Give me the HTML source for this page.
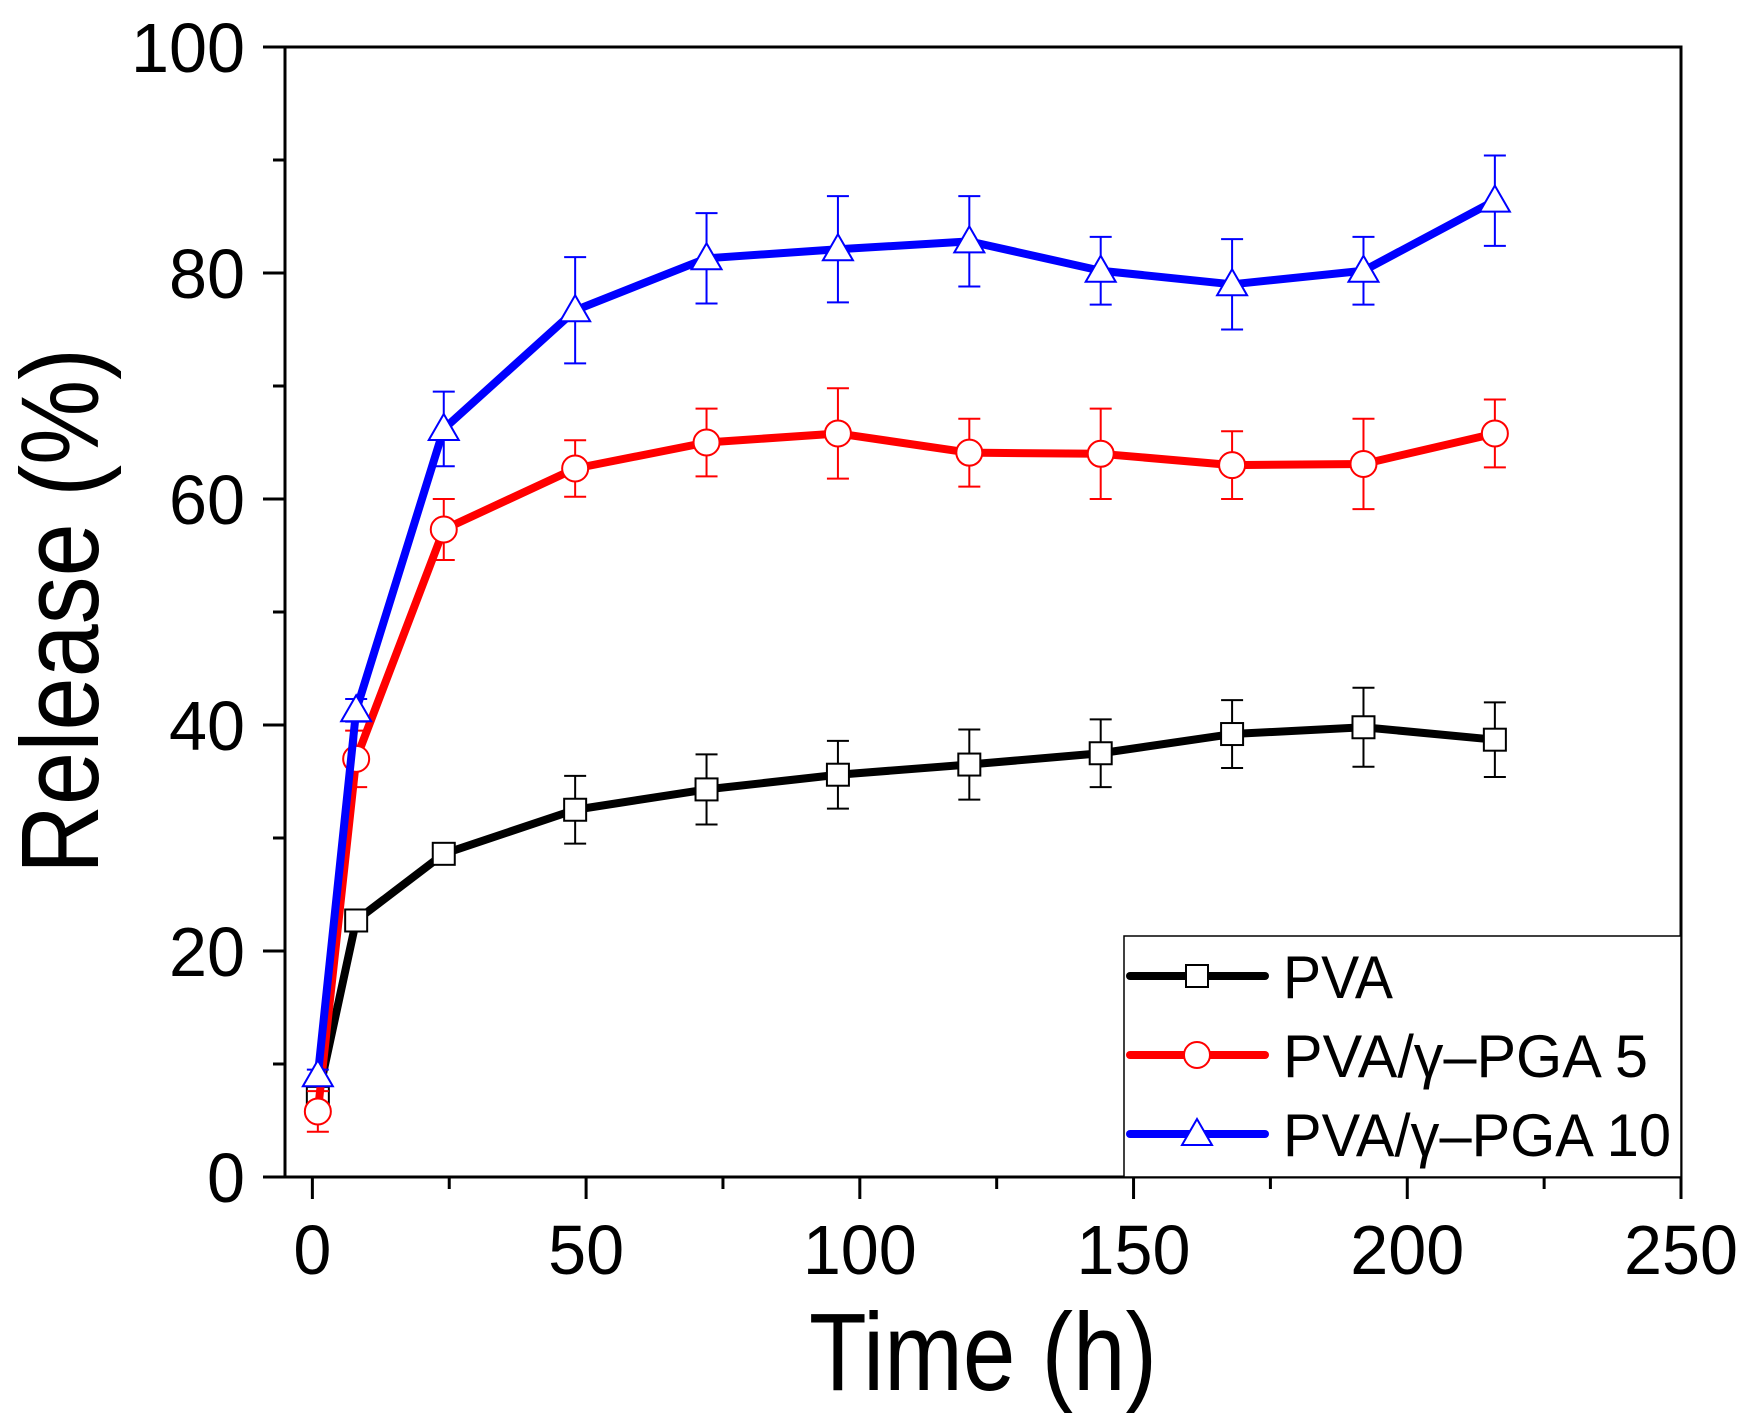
<!DOCTYPE html>
<html><head><meta charset="utf-8"><style>html,body{margin:0;padding:0;background:#fff}svg{display:block}</style></head>
<body>
<svg id="chart" width="1758" height="1425" viewBox="0 0 1758 1425" xmlns="http://www.w3.org/2000/svg" font-family="'Liberation Sans', sans-serif">
<g id="plot"></g>
</svg>
<script>
const times = [1, 8, 24, 48, 72, 96, 120, 144, 168, 192, 216];
const pvaValues = [7, 22.7, 28.6, 32.5, 34.3, 35.6, 36.5, 37.5, 39.2, 39.8, 38.7];
const pvaErrors = [0.6, 0.6, 0.5, 3, 3.1, 3, 3.1, 3, 3, 3.5, 3.3];
const pga5Values = [5.8, 37, 57.3, 62.7, 65, 65.8, 64.1, 64, 63, 63.1, 65.8];
const pga5Errors = [1.8, 2.5, 2.7, 2.5, 3, 4, 3, 4, 3, 4, 3];
const pga10Values = [9, 41.3, 66.2, 76.7, 81.3, 82.1, 82.8, 80.2, 79, 80.2, 86.4];
const pga10Errors = [0.5, 1, 3.3, 4.7, 4, 4.7, 4, 3, 4, 3, 4];
const xTickLabels = ["0", "50", "100", "150", "200", "250"];
const yTickLabels = ["0", "20", "40", "60", "80", "100"];
const seriesNames = ["PVA", "PVA/γ–PGA 5", "PVA/γ–PGA 10"];

const L = 285, R = 1681, T = 47, B = 1177;
const xMin = -5, xMax = 250, yMin = 0, yMax = 100;
const xs = v => L + (v - xMin) / (xMax - xMin) * (R - L);
const ys = v => B - (v - yMin) / (yMax - yMin) * (B - T);
const NS = "http://www.w3.org/2000/svg";
const plot = document.getElementById('plot');
function mk(tag, attrs, parent) {
  const e = document.createElementNS(NS, tag);
  for (const k in attrs) e.setAttribute(k, attrs[k]);
  (parent || plot).appendChild(e);
  return e;
}

const frame = mk('rect', {x: L, y: T, width: R - L, height: B - T, fill: 'none', stroke: '#000', 'stroke-width': 3});



for (let v = 0; v <= 250; v += 25) {
  const major = v % 50 === 0;
  const t = mk('line', {x1: xs(v), x2: xs(v), y1: B, y2: B + (major ? 22 : 12), stroke: '#000', 'stroke-width': 3});
  
  
}
xTickLabels.forEach(s => {
  const v = parseFloat(s);
  const w = s.length * 38;
  const t = mk('text', {x: xs(v), y: 1274, 'text-anchor': 'middle', 'font-size': 70, textLength: w, lengthAdjust: 'spacingAndGlyphs'});
  t.textContent = s;
  
  
});
for (let v = 0; v <= 100; v += 10) {
  const major = v % 20 === 0;
  const t = mk('line', {x1: L, x2: L - (major ? 22 : 12), y1: ys(v), y2: ys(v), stroke: '#000', 'stroke-width': 3});
  
  
}
yTickLabels.forEach(s => {
  const v = parseFloat(s);
  const w = s.length * 38;
  const t = mk('text', {x: 245, y: ys(v) + 25, 'text-anchor': 'end', 'font-size': 70, textLength: w, lengthAdjust: 'spacingAndGlyphs'});
  t.textContent = s;
  
  
});
const xt = mk('text', {x: 983, y: 1390, 'text-anchor': 'middle', 'font-size': 110, textLength: 348, lengthAdjust: 'spacingAndGlyphs'});
xt.textContent = 'Time (h)';


const yt = mk('text', {x: 0, y: 0, 'text-anchor': 'middle', 'font-size': 110, textLength: 526, lengthAdjust: 'spacingAndGlyphs', transform: 'translate(98,611) rotate(-90)'});
yt.textContent = 'Release (%)';



function marker(kind, cx, cy, color, parent) {
  if (kind === 'square') return mk('rect', {x: cx - 11, y: cy - 11, width: 22, height: 22, fill: '#fff', stroke: color, 'stroke-width': 2}, parent);
  if (kind === 'circle') return mk('circle', {cx: cx, cy: cy, r: 13, fill: '#fff', stroke: color, 'stroke-width': 2}, parent);
  return mk('polygon', {points: `${cx},${cy - 15} ${cx - 15},${cy + 11} ${cx + 15},${cy + 11}`, fill: '#fff', stroke: color, 'stroke-width': 2}, parent);
}

const series = [
  {vals: pvaValues, errs: pvaErrors, color: '#000', kind: 'square', name: 'pva'},
  {vals: pga5Values, errs: pga5Errors, color: '#ff0000', kind: 'circle', name: 'pva-pga5'},
  {vals: pga10Values, errs: pga10Errors, color: '#0000ff', kind: 'triangle', name: 'pva-pga10'}
];
series.forEach(s => {
  const g = mk('g', {});
  
  
  times.forEach((t, i) => {
    const x = xs(t), y1 = ys(s.vals[i] + s.errs[i]), y2 = ys(s.vals[i] - s.errs[i]);
    const e = mk('path', {d: `M${x},${y1}V${y2}M${x - 11},${y1}H${x + 11}M${x - 11},${y2}H${x + 11}`, stroke: s.color, 'stroke-width': 2, fill: 'none'}, g);
    
    
  });
  const line = mk('polyline', {points: times.map((t, i) => xs(t) + ',' + ys(s.vals[i])).join(' '), fill: 'none', stroke: s.color, 'stroke-width': 8, 'stroke-linejoin': 'round'}, g);
  
  
  times.forEach((t, i) => {
    const m = marker(s.kind, xs(t), ys(s.vals[i]), s.color, g);
    
    
  });
});

const lg = mk('g', {});


const lb = mk('rect', {x: 1124, y: 936, width: 557, height: 241, fill: '#fff', stroke: '#000', 'stroke-width': 1.5}, lg);


const rowsY = [976, 1055, 1134];
const textW = [110, 365, 388];
series.forEach((s, i) => {
  const y = rowsY[i];
  const ln = mk('line', {x1: 1130, x2: 1265, y1: y, y2: y, stroke: s.color, 'stroke-width': 8, 'stroke-linecap': 'round'}, lg);
  
  
  const m = marker(s.kind, 1197, y, s.color, lg);
  
  
  const tx = mk('text', {x: 1283, y: y + 22, 'font-size': 60, textLength: textW[i], lengthAdjust: 'spacingAndGlyphs'}, lg);
  tx.textContent = seriesNames[i];
  
  
});
</script>
</body></html>
